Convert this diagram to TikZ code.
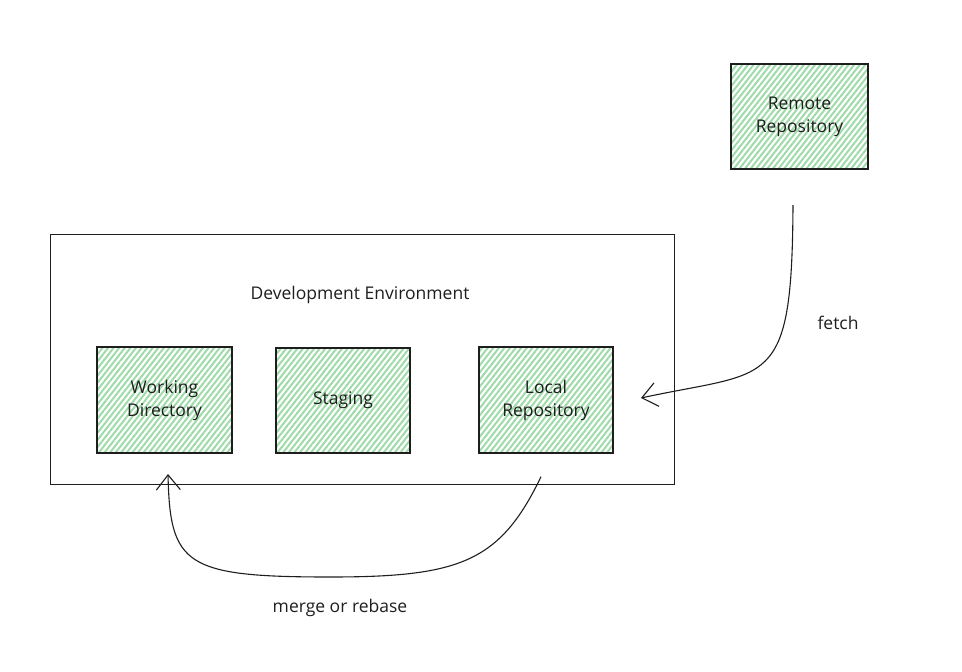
\documentclass[tikz,border=0pt]{standalone}
\usepackage{fontspec}
\setmainfont{Open Sans}
\usetikzlibrary{arrows.meta,patterns.meta,calc}
\definecolor{ink}{HTML}{1E1E1E}
\definecolor{hatch}{HTML}{9EDBA8}
\tikzset{
  greenbox/.style={draw=ink, line width=1.4pt, minimum width=#1, inner sep=0pt,
    preaction={fill=white},
    pattern={Lines[angle=52,distance=4.4pt,line width=2pt]}, pattern color=hatch,
    align=center, font=\fontsize{17.5}{23}\selectfont, text=ink},
  greenbox/.default=135pt,
  envbox/.style={draw=ink, line width=1pt},
  flow/.style={draw=ink, line width=1.1pt, -{Straight Barb[length=15pt,width=24pt,line width=1.1pt]}},
  lbl/.style={font=\fontsize{17.5}{23}\selectfont, text=ink}
}
\begin{document}
\begin{tikzpicture}[x=1pt,y=-1pt]
\useasboundingbox (0,0) rectangle (962,672);
% environment
\node[envbox, minimum width=624pt, minimum height=250pt, inner sep=0pt] (env) at (362,359) {};
\node[lbl] (envlbl) at (360,295) {Development Environment};
% boxes
\node[greenbox=137pt, minimum height=105pt] (remote) at (799.5,116.5) {Remote\\Repository};
\node[greenbox=135pt, minimum height=106pt] (work) at (164.5,400) {Working\\Directory};
\node[greenbox=134pt, minimum height=105pt] (stage) at (343,400.5) {Staging};
\node[greenbox=134pt, minimum height=106pt] (local) at (546,400) {Local\\Repository};
% connectors
\coordinate (fetchstart) at (793,205);
\coordinate (fetchend) at (641,398);
\coordinate (mergestart) at ($(local.south)+(-5,23)$);
\coordinate (mergeend) at (168,474);
\draw[flow] (fetchstart) .. controls (792,392) and (770,370) .. (fetchend);
\draw[flow] (mergestart) .. controls (500,562) and (460,577) .. (330,577)
   .. controls (185,577) and (170,565) .. (mergeend);
\node[lbl] (fetchlbl) at (838,323) {fetch};
\node[lbl] (mergelbl) at (340,608) {merge or rebase};
\end{tikzpicture}
\end{document}
